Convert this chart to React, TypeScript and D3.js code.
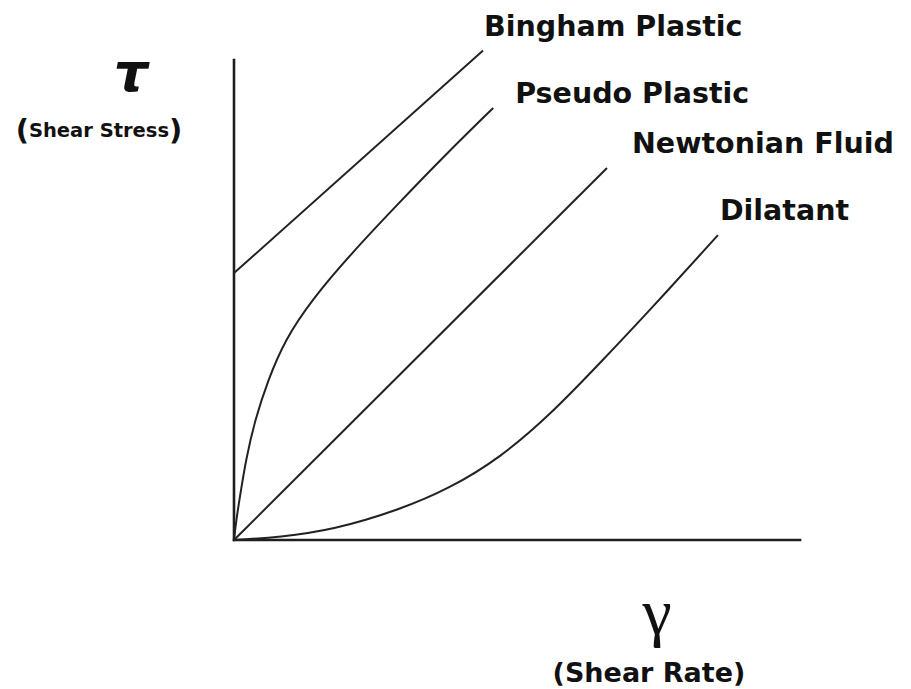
import React from 'react';
import * as d3 from 'd3';

type Pt = [number, number];

// shear rate (x) vs shear stress (y), arbitrary units 0..10
const binghamPlastic: Pt[] = [[0, 5.56], [4.4, 10.2]];
const pseudoPlastic: Pt[] = [
  [0, 0], [0.04, 0.42], [0.11, 0.94], [0.21, 1.67], [0.37, 2.5], [0.6, 3.33],
  [0.9, 4.17], [1.37, 5.0], [2.08, 5.98], [2.88, 6.98], [3.73, 8.02], [4.58, 9.0],
];
const newtonianFluid: Pt[] = [[0, 0], [6.59, 7.75]];
const dilatant: Pt[] = [
  [0, 0], [0.81, 0.06], [1.75, 0.21], [2.93, 0.63], [3.82, 1.08], [4.7, 1.71],
  [5.58, 2.6], [6.47, 3.69], [7.35, 4.79], [8.55, 6.35],
];

const seriesNames = ['Bingham Plastic', 'Pseudo Plastic', 'Newtonian Fluid', 'Dilatant'];
const seriesData = [binghamPlastic, pseudoPlastic, newtonianFluid, dilatant];

const W = 911;
const H = 689;

const App: React.FC = () => {
  const x = d3.scaleLinear().domain([0, 10]).range([234, 800]);
  const y = d3.scaleLinear().domain([0, 10]).range([540, 60]);

  const line = d3.line<Pt>()
    .x(d => x(d[0]))
    .y(d => y(d[1]))
    .curve(d3.curveBasis);

  // label anchor offsets from each curve's end point
  const labelOffset: Pt[] = [[1, -14], [22, -5], [25, -15], [2, -15]];

  return (
    <svg width={W} height={H} style={{ position: 'absolute', left: 0, top: 0, background: '#fff' }}>
      <g fill="none" stroke="#1e1e1e" strokeWidth={2.6} strokeLinecap="square">
        <line x1={x(0)} y1={y(10)} x2={x(0)} y2={y(0)} />
        <line x1={x(0)} y1={y(0)} x2={x(10)} y2={y(0)} />
      </g>

      {seriesData.map((d, i) => (
        <path key={seriesNames[i]} d={line(d) || ''} fill="none" stroke="#222" strokeWidth={2} />
      ))}

      {seriesData.map((d, i) => {
        const last = d[d.length - 1];
        return (
          <text key={'l' + i}
            x={x(last[0]) + labelOffset[i][0]}
            y={y(last[1]) + labelOffset[i][1]}
            fontFamily="DejaVu Sans" fontWeight="bold" fontSize={28.5} fill="#111">
            {seriesNames[i]}
          </text>
        );
      })}

      <text x={131} y={91} textAnchor="middle" fontFamily="DejaVu Sans" fontWeight="bold"
        fontStyle="italic" fontSize={54} fill="#111">τ</text>
      <text x={99} y={140} textAnchor="middle" fontFamily="DejaVu Sans" fontWeight="bold" fill="#111">
        <tspan fontSize={29}>(</tspan>
        <tspan fontSize={19.5} dy={-3}>Shear Stress</tspan>
        <tspan fontSize={29} dy={3}>)</tspan>
      </text>

      <text x={657} y={634} textAnchor="middle" fontFamily="Liberation Serif" fontSize={66} fill="#111">γ</text>
      <text x={649} y={682} textAnchor="middle" fontFamily="DejaVu Sans" fontWeight="bold"
        fontSize={27} fill="#111">(Shear Rate)</text>
    </svg>
  );
};

export default App;
